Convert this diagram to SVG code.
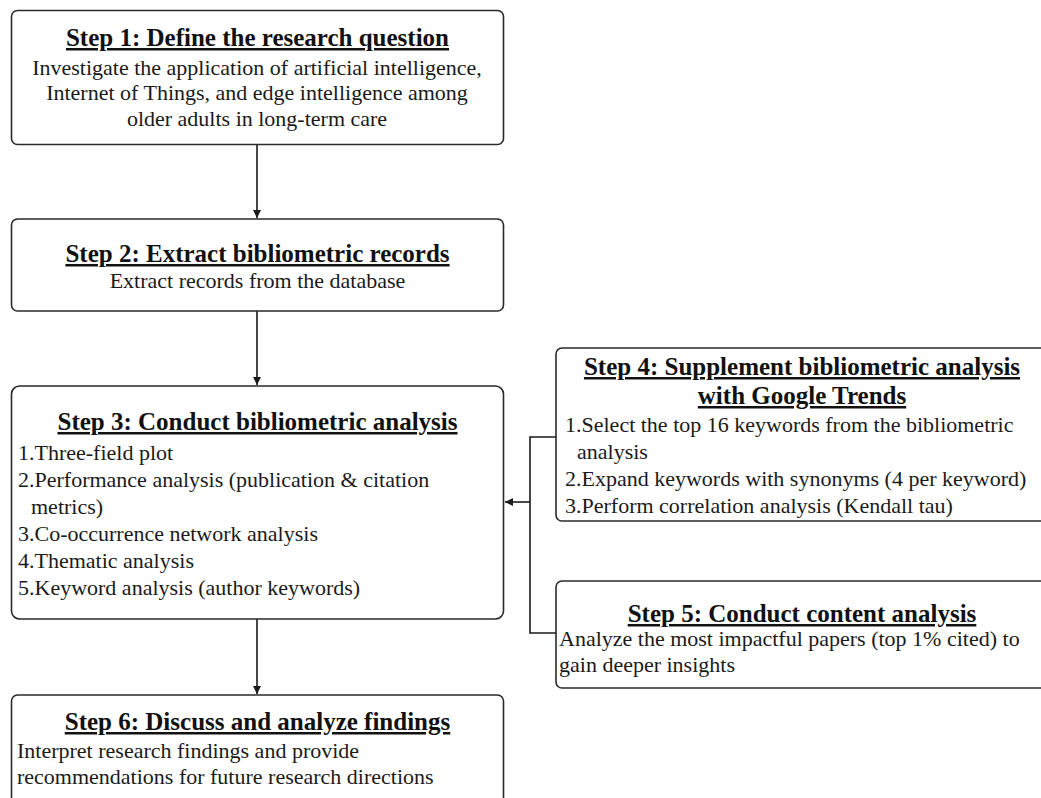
<svg xmlns="http://www.w3.org/2000/svg" width="1041" height="798" viewBox="0 0 1041 798">
<style>
.box{fill:#fff;stroke:#2a2a2a;stroke-width:1.6}
.t{font-family:"Liberation Serif","Times New Roman",serif;font-size:25px;font-weight:bold;fill:#111;text-anchor:middle;text-decoration:underline;text-decoration-color:#555}
.b{font-family:"Liberation Serif","Times New Roman",serif;font-size:22px;fill:#1a1a1a}
.c{text-anchor:middle}
.conn{fill:none;stroke:#1a1a1a;stroke-width:1.6}
</style>
<defs>
<marker id="arr" viewBox="0 0 10 10" refX="10" refY="5" markerWidth="5.5" markerHeight="5" orient="auto" markerUnits="strokeWidth">
<path d="M0,0 L10,5 L0,10 z" fill="#1a1a1a"/>
</marker>
</defs>
<rect width="1041" height="798" fill="#fff"/>
<g id="connectors">
<line class="conn" x1="257" y1="144" x2="257" y2="218" marker-end="url(#arr)"/>
<line class="conn" x1="257" y1="311" x2="257" y2="385" marker-end="url(#arr)"/>
<line class="conn" x1="257" y1="619" x2="257" y2="694" marker-end="url(#arr)"/>
<polyline class="conn" points="556,437 530,437 530,633 556,633"/>
<line class="conn" x1="530" y1="502" x2="505" y2="502" marker-end="url(#arr)"/>
</g>
<g id="step1">
<rect class="box" x="11.5" y="10.5" width="492" height="134" rx="6"/>
<text class="t" x="257.5" y="46">Step 1: Define the research question</text>
<text class="b c" x="257" y="75">Investigate the application of artificial intelligence,</text>
<text class="b c" x="257" y="100">Internet of Things, and edge intelligence among</text>
<text class="b c" x="257" y="126">older adults in long-term care</text>
</g>
<g id="step2">
<rect class="box" x="11.5" y="219" width="492" height="92" rx="6"/>
<text class="t" x="257.5" y="262">Step 2: Extract bibliometric records</text>
<text class="b c" x="257.5" y="288">Extract records from the database</text>
</g>
<g id="step3">
<rect class="box" x="11.5" y="386" width="492" height="233" rx="8"/>
<text class="t" x="257.5" y="430">Step 3: Conduct bibliometric analysis</text>
<text class="b" x="18" y="460">1.Three-field plot</text>
<text class="b" x="18" y="487">2.Performance analysis (publication &amp; citation</text>
<text class="b" x="31" y="514">metrics)</text>
<text class="b" x="18" y="541">3.Co-occurrence network analysis</text>
<text class="b" x="18" y="568">4.Thematic analysis</text>
<text class="b" x="18" y="595">5.Keyword analysis (author keywords)</text>
</g>
<g id="step4">
<rect class="box" x="556" y="348" width="492" height="173" rx="6"/>
<text class="t" x="802" y="375">Step 4: Supplement bibliometric analysis</text>
<text class="t" x="802" y="404">with Google Trends</text>
<text class="b" x="565" y="432">1.Select the top 16 keywords from the bibliometric</text>
<text class="b" x="577" y="459">analysis</text>
<text class="b" x="565" y="486">2.Expand keywords with synonyms (4 per keyword)</text>
<text class="b" x="565" y="513">3.Perform correlation analysis (Kendall tau)</text>
</g>
<g id="step5">
<rect class="box" x="556" y="581" width="492" height="107" rx="6"/>
<text class="t" x="802" y="622">Step 5: Conduct content analysis</text>
<text class="b" x="559" y="646">Analyze the most impactful papers (top 1% cited) to</text>
<text class="b" x="559" y="672">gain deeper insights</text>
</g>
<g id="step6">
<rect class="box" x="11.5" y="695" width="492" height="120" rx="6"/>
<text class="t" x="257.5" y="730">Step 6: Discuss and analyze findings</text>
<text class="b" x="17" y="758">Interpret research findings and provide</text>
<text class="b" x="17" y="784">recommendations for future research directions</text>
</g>
</svg>
